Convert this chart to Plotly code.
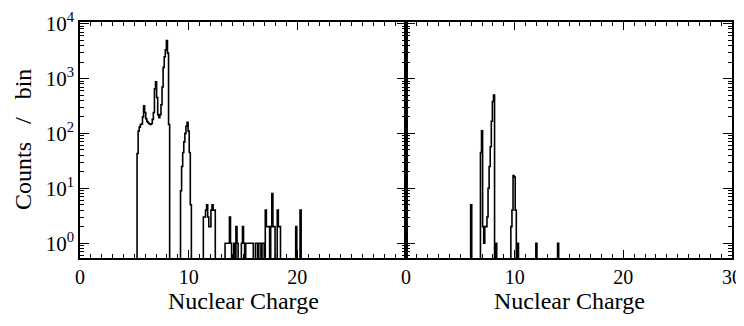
import numpy as np
import plotly.graph_objects as go

# ---- data (bin centers, 0.1 wide; unlisted bins are 0) ----
left_charge = [5.3, 5.4, 5.5, 5.6, 5.7, 5.8, 5.9, 6.0, 6.1, 6.2, 6.3, 6.4, 6.5, 6.6, 6.7,
               6.8, 6.9, 7.0, 7.1, 7.2, 7.3, 7.4, 7.5, 7.6, 7.7, 7.8, 7.9, 8.0, 8.1, 8.2,
               9.3, 9.4, 9.5, 9.6, 9.7, 9.8, 9.9, 10.0, 10.1, 10.2,
               11.4, 11.5, 11.6, 11.7, 11.8, 11.9, 12.0, 12.1, 12.2, 12.3, 12.4,
               13.4, 13.5, 13.6, 13.7, 13.8, 13.9,
               14.2, 14.4, 14.5,
               14.9, 15.0, 15.1,
               15.3, 15.4, 15.5, 15.6, 15.7, 15.8, 15.9,
               16.2, 16.3, 16.5, 16.6, 16.8, 16.9,
               17.1, 17.2, 17.3, 17.4, 17.6, 17.7, 17.8, 17.9, 18.2, 18.3, 18.4,
               19.9, 20.3]
left_counts = [43, 110, 130, 145, 148, 200, 318, 240, 185, 165, 156, 150, 146, 150, 180,
               240, 650, 870, 450, 220, 193, 220, 332, 700, 1600, 2500, 3330, 4900, 2900, 145,
               9, 25, 45, 70, 100, 135, 160, 110, 45, 5,
               3, 3, 4, 5, 3, 2, 2, 4, 5, 4, 4,
               1, 1, 1, 1, 3, 1,
               1, 2, 1,
               1, 2, 1,
               1, 1, 1, 1, 1, 1, 1,
               1, 1, 1, 1, 1, 1,
               4, 2, 2, 2, 2, 8, 2, 2, 4, 2, 2,
               2, 4]

right_charge = [6.0, 6.9, 7.0, 7.1, 7.2, 7.3, 7.4, 7.5, 7.6, 7.7, 7.8, 7.9, 8.0, 8.1,
                8.3, 9.7, 9.8, 9.9, 10.0, 10.1, 10.3, 12.0, 14.0]
right_counts = [5, 45, 112, 2, 1, 2, 2, 3, 10, 25, 57, 167, 380, 500,
                1, 2, 4, 17, 16, 4, 1, 1, 1]

x_ticks_left = [0, 10, 20]
x_ticks_right = [0, 10, 20, 30]
y_ticks = [1, 10, 100, 1000, 10000]
y_ticktext = ["10<sup>0</sup>", "10<sup>1</sup>", "10<sup>2</sup>", "10<sup>3</sup>", "10<sup>4</sup>"]
y_minor = [m * 10 ** e for e in range(-1, 4) for m in range(2, 10)]

BIN = 0.1
FLOOR = 0.01  # empty bins drawn below the axis floor (clipped)


def step_outline(charges, counts):
    idx = np.arange(0, 301)
    lookup = {int(round(c / BIN)): v for c, v in zip(charges, counts)}
    vals = np.array([lookup.get(int(i), 0) for i in idx], dtype=float)
    vals[vals <= 0] = FLOOR
    centers = idx * BIN
    xs = np.append(centers - BIN / 2, centers[-1] + BIN / 2)
    ys = np.append(vals, vals[-1])
    return xs, ys


FONT = "Liberation Serif"
fig = go.Figure()
for (ch, ct, xa, ya) in [(left_charge, left_counts, "x", "y"),
                         (right_charge, right_counts, "x2", "y2")]:
    xs, ys = step_outline(ch, ct)
    fig.add_trace(go.Scatter(x=xs, y=ys, mode="lines", line_shape="hv",
                             line=dict(color="black", width=1.6),
                             xaxis=xa, yaxis=ya, showlegend=False, hoverinfo="skip"))

common_x = dict(range=[0, 30], showline=True, linecolor="black", linewidth=1.5,
                mirror="ticks", ticks="inside", ticklen=8, tickwidth=1, tickcolor="black",
                minor=dict(dtick=1, ticks="inside", ticklen=4, tickwidth=1, tickcolor="black"),
                showgrid=False, zeroline=False, automargin=False, ticklabeloverflow="allow",
                tickfont=dict(family=FONT, size=20, color="black"))
common_y = dict(type="log", range=[-0.27, 4.03], showline=True, linecolor="black", linewidth=1.5,
                mirror="ticks", ticks="inside", ticklen=9, tickwidth=1, tickcolor="black",
                tickvals=y_ticks, ticktext=y_ticktext,
                minor=dict(tickmode="array", tickvals=y_minor, ticks="inside", ticklen=4,
                           tickwidth=1, tickcolor="black"),
                showgrid=False, zeroline=False, automargin=False, ticklabeloverflow="allow",
                tickfont=dict(family=FONT, size=21, color="black"))

# the page body adds an 8px offset, so the figure is sized to fit the window without scrolling
fig.update_layout(
    width=736, height=318,
    margin=dict(l=72, r=12, t=14, b=68),
    paper_bgcolor="white", plot_bgcolor="white",
    xaxis=dict(domain=[0, 0.5], anchor="y", tickvals=x_ticks_left, **common_x),
    xaxis2=dict(domain=[0.5, 1], anchor="y2", tickvals=x_ticks_right, **common_x),
    yaxis=dict(anchor="x", **common_y),
    yaxis2=dict(anchor="x2", showticklabels=False, **common_y),
    annotations=[
        dict(text="Counts   /   bin", xref="paper", yref="paper", x=0, y=0.5, xanchor="center",
             yanchor="middle", xshift=-57, textangle=-90, showarrow=False,
             font=dict(family=FONT, size=24, color="black")),
        dict(text="Nuclear Charge", xref="paper", yref="paper", x=0.25, y=0, xanchor="center",
             yanchor="middle", yshift=-43, showarrow=False,
             font=dict(family=FONT, size=24, color="black")),
        dict(text="Nuclear Charge", xref="paper", yref="paper", x=0.75, y=0, xanchor="center",
             yanchor="middle", yshift=-43, showarrow=False,
             font=dict(family=FONT, size=24, color="black")),
    ],
)

fig.write_html("out.html")
